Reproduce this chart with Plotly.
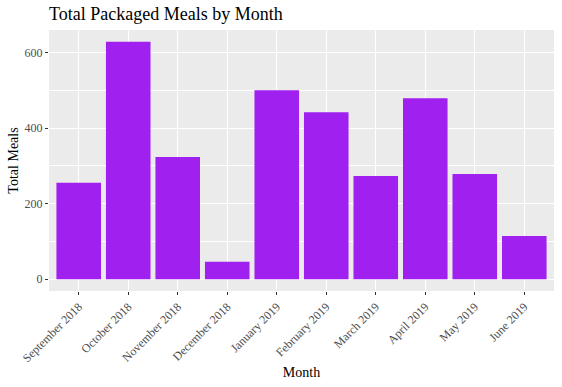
import plotly.graph_objects as go

months = ["September 2018", "October 2018", "November 2018", "December 2018",
          "January 2019", "February 2019", "March 2019", "April 2019",
          "May 2019", "June 2019"]
total_meals = [255, 628, 323, 46, 500, 442, 273, 479, 278, 114]
y_ticks = [0, 200, 400, 600]

FONT = "Liberation Serif, Times New Roman, serif"

W, H = 562, 387

fig = go.Figure(go.Bar(
    x=months, y=total_meals, width=0.9,
    marker=dict(color="#A020F0", line=dict(width=0)),
))

fig.update_layout(
    width=W, height=H,
    margin=dict(l=49, r=8, t=30, b=96),
    paper_bgcolor="white", plot_bgcolor="#EBEBEB",
    font=dict(family=FONT, color="black"),
    showlegend=False,
    bargap=0.1,
    title=dict(text="Total Packaged Meals by Month", x=49/W, xanchor="left",
               y=1 - 7/H, yanchor="top", pad=dict(t=0, b=0, l=0, r=0),
               font=dict(family=FONT, size=18, color="black")),
)

fig.update_xaxes(
    range=[-0.6, 9.6], showgrid=True, gridcolor="white", gridwidth=1.1,
    ticks="outside", ticklen=3, tickcolor="#333333", tickwidth=1,
    tickangle=-45, tickfont=dict(family=FONT, size=12, color="#4D4D4D"),
    showline=False, zeroline=False, automargin=False,
    title=dict(text="Month", font=dict(family=FONT, size=14, color="black"), standoff=3),
)
fig.update_yaxes(
    range=[-31.4, 659.4], tickvals=y_ticks, showgrid=True, gridcolor="white", gridwidth=1.1,
    minor=dict(tickvals=[100, 300, 500], showgrid=True, gridcolor="white", gridwidth=0.55, ticks=""),
    ticks="outside", ticklen=3, tickcolor="#333333", tickwidth=1,
    tickfont=dict(family=FONT, size=12, color="#4D4D4D"),
    showline=False, zeroline=False, automargin=False,
    title=dict(text="Total Meals", font=dict(family=FONT, size=14, color="black"), standoff=2),
)

fig.write_html("out.html", config={"displayModeBar": False},
               post_script="document.body.style.margin='0px';")
